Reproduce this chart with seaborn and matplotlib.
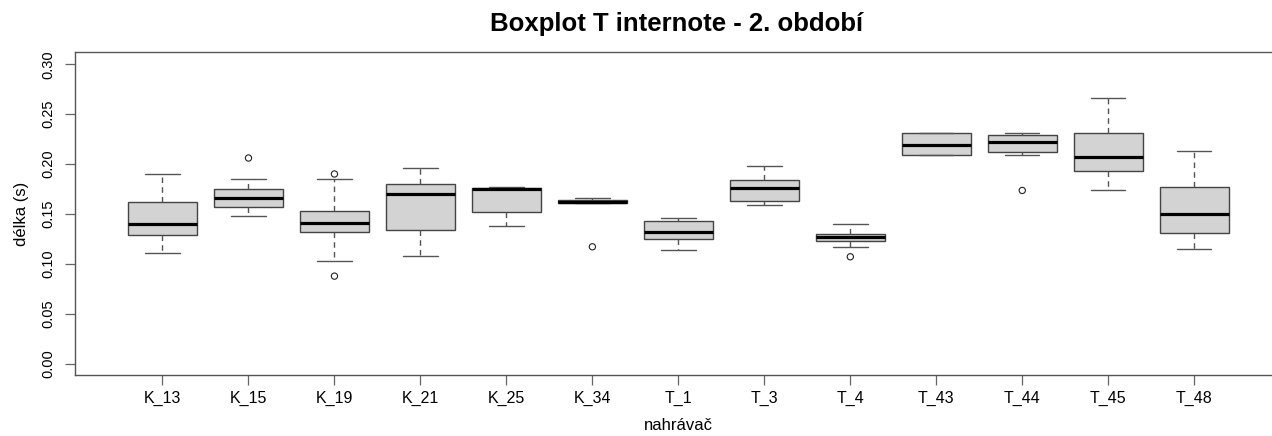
# R-style boxplot, rebuilt with seaborn

import pandas as pd
import numpy as np
import matplotlib
matplotlib.use("Agg")
import matplotlib.pyplot as plt
import seaborn as sns

# DATA: five-number summaries
groups = ["K_13", "K_15", "K_19", "K_21", "K_25", "K_34", "T_1",
          "T_3", "T_4", "T_43", "T_44", "T_45", "T_48"]

lower_whisker = [0.111, 0.148, 0.103, 0.108, 0.138, 0.1605, 0.114,
                 0.159, 0.117, 0.2086, 0.209, 0.174, 0.115]
q1 = [0.129, 0.157, 0.132, 0.134, 0.152, 0.1605, 0.125,
      0.163, 0.123, 0.2086, 0.2116, 0.193, 0.131]
median = [0.140, 0.166, 0.141, 0.170, 0.175, 0.162, 0.132,
          0.176, 0.127, 0.219, 0.222, 0.207, 0.150]
q3 = [0.162, 0.175, 0.153, 0.180, 0.176, 0.1635, 0.143,
      0.184, 0.130, 0.2307, 0.229, 0.2307, 0.177]
upper_whisker = [0.190, 0.185, 0.185, 0.196, 0.177, 0.166, 0.146,
                 0.198, 0.140, 0.2307, 0.231, 0.266, 0.2126]

# outliers
outlier_group = ["K_15", "K_19", "K_19", "K_34", "T_4", "T_44"]
outlier_value = [0.206, 0.190, 0.0876, 0.117, 0.107, 0.1735]

y_ticks = [0.00, 0.05, 0.10, 0.15, 0.20, 0.25, 0.30]

# build long table (5 points per group -> exact quartiles)
df = pd.DataFrame({
    "group": groups,
    "lo": lower_whisker, "q1": q1, "med": median, "q3": q3, "hi": upper_whisker,
})
df = df.melt(id_vars="group", value_name="value")
out_df = pd.DataFrame({"group": outlier_group, "value": outlier_value})

# STYLE
sns.set_style("white")
plt.rcParams["font.family"] = ["Liberation Sans", "DejaVu Sans"]
plt.rcParams["text.color"] = "black"
plt.rcParams["axes.labelcolor"] = "black"

fig = plt.figure(figsize=(12.72, 4.36), dpi=100)
ax = fig.add_axes([0.0588, 0.1388, 0.949, 0.7413])

edge = "#444444"
sns.boxplot(
    data=df, x="group", y="value", order=groups, ax=ax,
    color="#D3D3D3", saturation=1, width=0.8, whis=(0, 100),
    linecolor=edge, linewidth=1.0, fliersize=0,
    medianprops=dict(color="black", linewidth=2.3),
    whiskerprops=dict(linestyle=(0, (4, 3)), color="#555555"),
    capprops=dict(color="#555555"),
)
n_before = len(ax.collections)

sns.stripplot(
    data=out_df, x="group", y="value", order=groups, ax=ax,
    jitter=False, color="black", size=4.5, marker="o", zorder=5,
)
# open circles like R's pch=1
for pts in ax.collections[n_before:]:
    pts.set_facecolor("none")
    pts.set_edgecolor("#222222")
    pts.set_linewidth(0.8)

# axes / frame
ax.set_xlim(-1.02, len(groups) - 1 + 1.02)
ax.set_ylim(-0.012, 0.312)
for side in ["left", "right", "top", "bottom"]:
    ax.spines[side].set_visible(True)
    ax.spines[side].set_color("#555555")
    ax.spines[side].set_linewidth(1.0)

ax.set_yticks(y_ticks)
ax.set_yticklabels([f"{t:.2f}" for t in y_ticks], rotation=90, va="center",
                   fontsize=10.5)
ax.set_xticks(range(len(groups)))
ax.set_xticklabels(groups, fontsize=11.5)
ax.tick_params(axis="both", direction="out", length=7, width=0.9,
               color="#666666", labelcolor="black", left=True, bottom=True)
ax.tick_params(axis="y", pad=7)
ax.tick_params(axis="x", pad=4)

ax.set_xlabel("nahrávač", fontsize=12, labelpad=9)
ax.set_ylabel("délka (s)", fontsize=12, labelpad=9)

fig.text(0.532, 1 - 31 / 436, "Boxplot T internote - 2. období",
         ha="center", va="baseline", fontsize=18.5, fontweight="bold",
         color="black")

fig.savefig("out.png", dpi=100)
